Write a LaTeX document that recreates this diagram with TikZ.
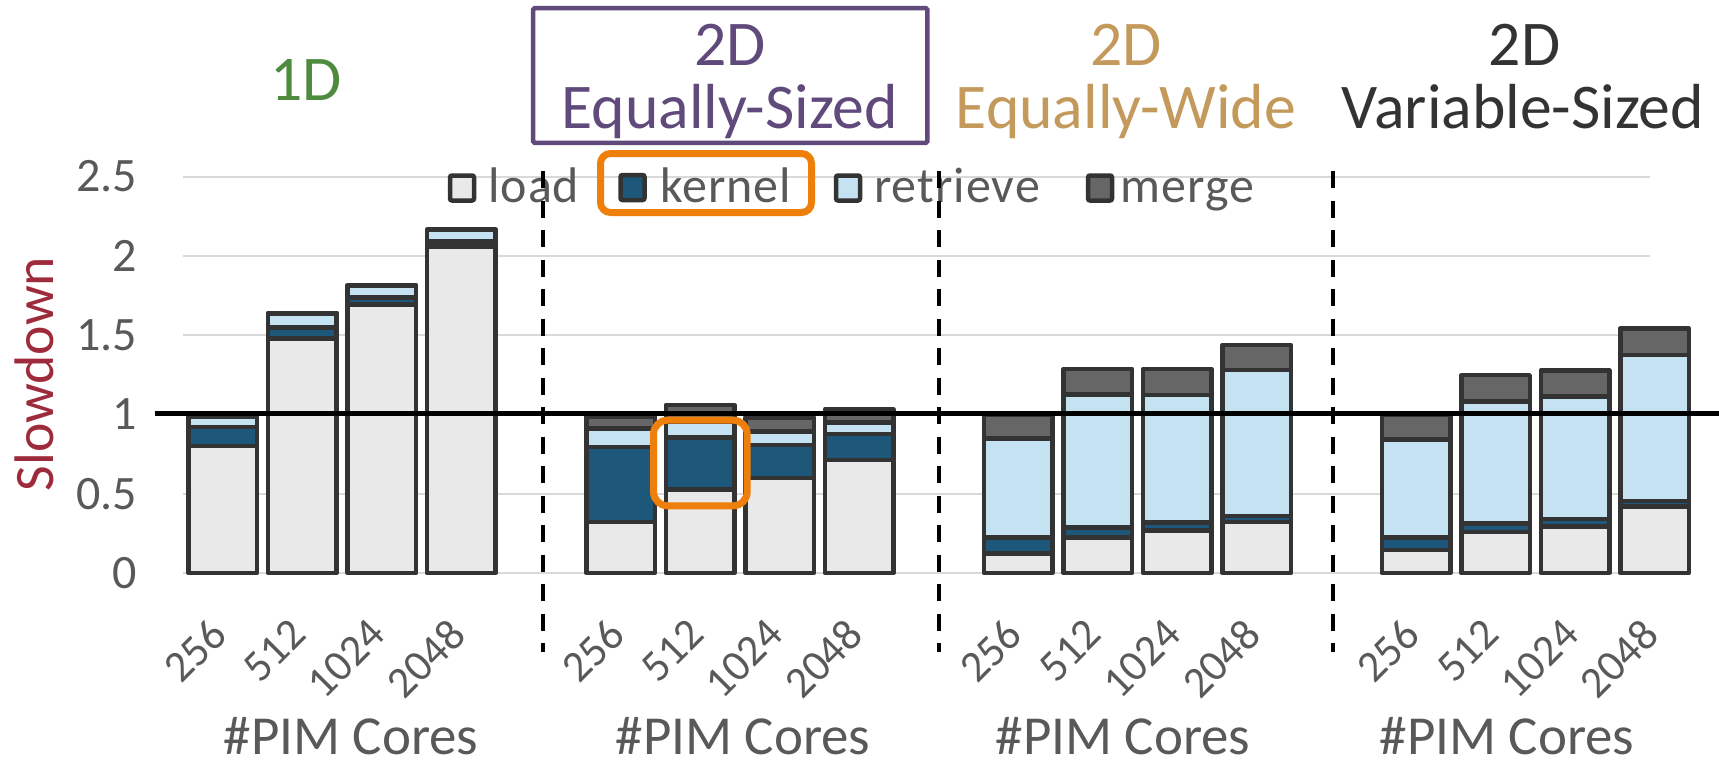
\documentclass[tikz,border=0pt]{standalone}
\usepackage{fontspec}
\setmainfont{Carlito}
\definecolor{cload}{HTML}{E9E9E9}
\definecolor{ckernel}{HTML}{1D577A}
\definecolor{cretrieve}{HTML}{C5E2F2}
\definecolor{cmerge}{HTML}{666666}
\definecolor{barline}{HTML}{333333}
\definecolor{axisgray}{HTML}{595959}
\definecolor{gridgray}{HTML}{D9D9D9}
\definecolor{hilite}{HTML}{EF7F0B}
\definecolor{titlegreen}{HTML}{4E8B3F}
\definecolor{titlepurple}{HTML}{604A7B}
\definecolor{titletan}{HTML}{C49A5C}
\definecolor{titledark}{HTML}{333333}
\definecolor{ylabred}{HTML}{9E2B3B}

% stacked bar: centre x, then cumulative tops of load, kernel, retrieve, merge
\newcommand\stackbar[5]{%
  \pgfmathsetmacro\bxl{#1-34.25}%
  \pgfmathsetmacro\bxr{#1+34.25}%
  \pgfmathsetmacro\ya{573-158.6*#2}%
  \pgfmathsetmacro\yb{573-158.6*#3}%
  \pgfmathsetmacro\yc{573-158.6*#4}%
  \pgfmathsetmacro\yd{573-158.6*#5}%
  \path[segload]    (\bxl,573) rectangle (\bxr,\ya);
  \path[segkernel]  (\bxl,\ya) rectangle (\bxr,\yb);
  \path[segretrieve](\bxl,\yb) rectangle (\bxr,\yc);
  \path[segmerge]   (\bxl,\yc) rectangle (\bxr,\yd);
}

\begin{document}
\begin{tikzpicture}[x=1pt,y=-1pt,
  bordr/.style={draw=barline, line width=4.5pt, line join=round},
  segload/.style={bordr, fill=cload},
  segkernel/.style={bordr, fill=ckernel},
  segretrieve/.style={bordr, fill=cretrieve},
  segmerge/.style={bordr, fill=cmerge},
  swatch/.style={draw=barline, line width=4.5pt, rounded corners=2pt, minimum width=24pt, minimum height=25pt, inner sep=0pt},
  legtext/.style={font=\fontsize{50}{50}\selectfont\addfontfeature{LetterSpace=2}, text=axisgray, anchor=base west, inner sep=0pt},
  ytick/.style={font=\fontsize{48}{48}\selectfont, text=axisgray, anchor=east, inner sep=0pt},
  xtick/.style={font=\fontsize{44}{44}\selectfont, text=axisgray, rotate=45, anchor=east, inner sep=0pt},
  xtitle/.style={font=\fontsize{55}{55}\selectfont, text=axisgray, anchor=base, inner sep=0pt},
  grouptitle/.style={font=\fontsize{63.7}{63.7}\selectfont, anchor=base, inner sep=0pt},
  gridline/.style={draw=gridgray, line width=2pt},
  divider/.style={draw=black, line width=4pt, dash pattern=on 17pt off 12.5pt},
  hibox/.style={draw=hilite, line width=7pt}
]
\useasboundingbox (0,0) rectangle (1719,761);

% horizontal grid
\foreach \v in {0,0.5,1.5,2,2.5}
  \draw[gridline] (183,{573-158.6*\v}) -- (1650,{573-158.6*\v});

% y axis tick labels
\foreach \v/\t in {0/0,0.5/0.5,1/1,1.5/1.5,2/2,2.5/2.5}
  \node[ytick] (y-\t) at (137,{573-158.6*\v}) {\t};

% y axis title
\node[font=\fontsize{55.7}{55.7}\selectfont, text=ylabred, rotate=90, anchor=base, inner sep=0pt] (ylab) at (53,374) {Slowdown};

% 1D
\stackbar{222.9}{0.80}{0.922}{0.987}{0.99}
\stackbar{302.4}{1.48}{1.549}{1.637}{1.64}
\stackbar{381.9}{1.694}{1.736}{1.811}{1.815}
\stackbar{461.4}{2.06}{2.089}{2.163}{2.165}
% 2D equally-sized
\stackbar{620.6}{0.323}{0.793}{0.91}{0.986}
\stackbar{700.1}{0.528}{0.853}{0.954}{1.059}
\stackbar{779.6}{0.599}{0.807}{0.891}{0.979}
\stackbar{859.1}{0.714}{0.876}{0.948}{1.032}
% 2D equally-wide
\stackbar{1018.3}{0.124}{0.225}{0.849}{0.996}
\stackbar{1097.8}{0.225}{0.288}{1.124}{1.286}
\stackbar{1177.3}{0.267}{0.317}{1.122}{1.286}
\stackbar{1256.8}{0.323}{0.359}{1.28}{1.438}
% 2D variable-sized
\stackbar{1416.0}{0.145}{0.225}{0.843}{0.996}
\stackbar{1495.5}{0.257}{0.313}{1.08}{1.247}
\stackbar{1575.0}{0.292}{0.339}{1.112}{1.278}
\stackbar{1654.5}{0.418}{0.454}{1.375}{1.543}

% reference line at slowdown 1
\coordinate (one-l) at (154.6,413);
\coordinate (one-r) at (1719,413);
\draw[black, line width=5pt] (one-l) -- (one-r);

% x tick labels and titles
\foreach \g in {0,1,2,3}
  \foreach \i/\t in {0/256,1/512,2/1024,3/2048}
    \node[xtick] (x-\g-\i) at ({222.9+397.7*\g+79.5*\i-4},627) {\t};
\node[xtitle] (xt-0) at (351,754) {\#PIM Cores};
\node[xtitle] (xt-1) at (743,754) {\#PIM Cores};
\node[xtitle] (xt-2) at (1123,754) {\#PIM Cores};
\node[xtitle] (xt-3) at (1507,754) {\#PIM Cores};

% group titles
\node[grouptitle, text=titlegreen] (g1) at (306,100) {1D};
\node[grouptitle, text=titlepurple] (g2a) at (730,65) {2D};
\node[grouptitle, text=titlepurple] (g2b) at (730,128) {Equally-Sized};
\node[grouptitle, text=titletan] (g3a) at (1126,65) {2D};
\node[grouptitle, text=titletan] (g3b) at (1126,128) {Equally-Wide};
\node[grouptitle, text=titledark] (g4a) at (1524.6,65) {2D};
\node[grouptitle, text=titledark] (g4b) at (1523,128) {Variable-Sized};
\draw[titlepurple, line width=4.5pt, rounded corners=1.5pt] (533.2,8.2) rectangle (927.3,142.8);

% legend
\node[swatch, fill=cload] (s-load) at (462,188) {};
\node[legtext] (l-load) at (488,202) {load};
\node[swatch, fill=ckernel] (s-kernel) at (632.5,187.5) {};
\node[legtext] (l-kernel) at (660,202) {kernel};
\node[swatch, fill=cretrieve] (s-retrieve) at (848,188) {};
\node[legtext] (l-retrieve) at (874,202) {retrieve};
\node[swatch, fill=cmerge] (s-merge) at (1100,188) {};
\node[legtext] (l-merge) at (1120.5,202) {merge};

% highlight boxes
\draw[hibox, rounded corners=10pt] (600.5,153.5) rectangle (811.5,212.5);
\draw[hibox, rounded corners=14pt] (653.5,420.2) rectangle (747.2,505.8);

% group dividers
\foreach \x [count=\n] in {542.7,939.2,1333}{
  \coordinate (d\n-top) at (\x,171);
  \coordinate (d\n-bot) at (\x,652);
  \draw[divider] (d\n-top) -- (d\n-bot);
}
\end{tikzpicture}
\end{document}
